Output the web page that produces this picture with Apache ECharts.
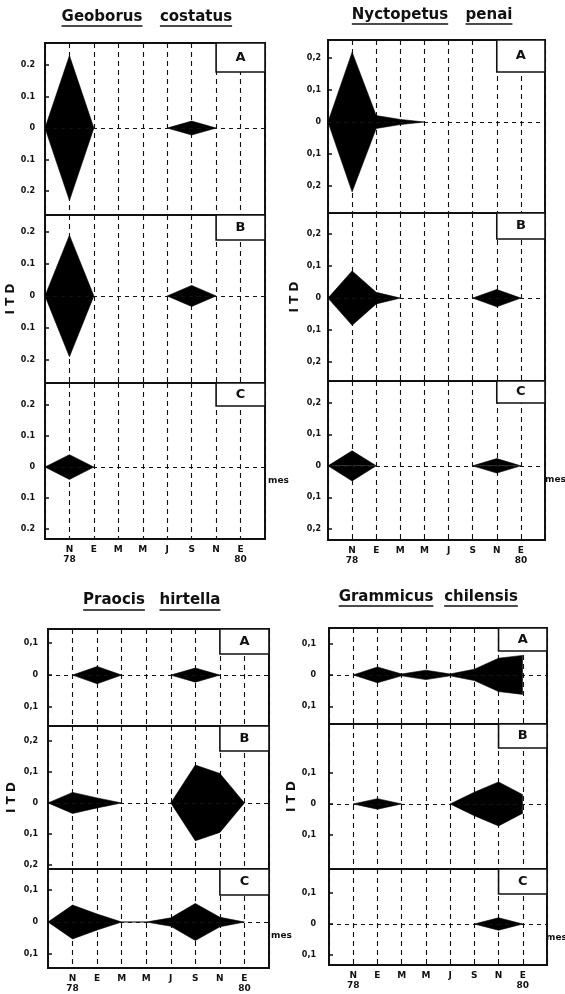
<!DOCTYPE html>
<html><head><meta charset="utf-8">
<script src="https://cdn.jsdelivr.net/npm/echarts@6/dist/echarts.min.js"></script>
<style>html,body{margin:0;padding:0;background:#fff}#c{width:565px;height:994px}</style>
</head><body><div id="c"></div>
<script>
// ---- DATA ----
// x positions: 0 = left edge (Sep 78), 1..8 = N E M M J S N E (bimonthly, Nov 78 - Jan 80), 9 = right edge
const monthLabels = ['', 'N\n78', 'E', 'M', 'M', 'J', 'S', 'N', 'E\n80', ''];
const panelLetters = ['A', 'B', 'C'];
const speciesNames = [['Geoborus', 'costatus'], ['Nyctopetus', 'penai'], ['Praocis', 'hirtella'], ['Grammicus', 'chilensis']];

// ITD half-widths (kite drawn symmetrically around 0); null = no record
const geoborusA = [0, 0.23, 0, null, null, 0, 0.022, 0, null, null];
const geoborusB = [0, 0.19, 0, null, null, 0, 0.033, 0, null, null];
const geoborusC = [0, 0.04, 0, null, null, null, null, null, null, null];
const nyctopetusA = [0, 0.218, 0.02, 0.008, 0, null, null, null, null, null];
const nyctopetusB = [0, 0.085, 0.018, 0, null, null, 0, 0.027, 0, null];
const nyctopetusC = [0, 0.048, 0, null, null, null, 0, 0.023, 0, null];
const praocisA = [null, 0, 0.027, 0, null, 0, 0.022, 0, null, null];
const praocisB = [0, 0.034, 0.016, 0, null, 0, 0.122, 0.095, 0, null];
const praocisC = [0, 0.053, 0.025, 0, 0, 0.013, 0.058, 0.015, 0, null];
const grammicusA = [null, 0, 0.025, 0.003, 0.015, 0.003, 0.018, 0.053, 0.062, null];
const grammicusB = [null, 0, 0.017, 0, null, 0, 0.038, 0.071, 0.03, null];
const grammicusC = [null, null, null, null, null, null, 0, 0.02, 0, null];

const ticksWide = [-0.2, -0.1, 0, 0.1, 0.2];
const ticksNarrow = [-0.1, 0, 0.1];
const tickLabelsDot = ['0.2', '0.1', '0', '0.1', '0.2'];
const tickLabelsComma = ['0,2', '0,1', '0', '0,1', '0,2'];

const speciesData = [
  [geoborusA, geoborusB, geoborusC],
  [nyctopetusA, nyctopetusB, nyctopetusC],
  [praocisA, praocisB, praocisC],
  [grammicusA, grammicusB, grammicusC]
];
const speciesTicks = [
  [ticksWide, ticksWide, ticksWide],
  [ticksWide, ticksWide, ticksWide],
  [ticksNarrow, ticksWide, ticksNarrow],
  [ticksNarrow, ticksNarrow, ticksNarrow]
];
const speciesTickLabels = [tickLabelsDot, tickLabelsComma, tickLabelsComma, tickLabelsComma];

// ---- LAYOUT (pixels / axis ranges) ----
const layout = [
  { left: 45, width: 220, rows: [[43, 215], [215, 383], [383, 539]],
    yr: [[-0.276, 0.27], [-0.272, 0.253], [-0.232, 0.271]], box: [29, 25, 23],
    title: { y: 17, ul: 26, cx: [102, 196] }, itdGap: 24, lblMargin: 10, mesGap: 3 },
  { left: 328, width: 217, rows: [[40, 213], [213, 381], [381, 540]],
    yr: [[-0.284, 0.256], [-0.259, 0.266], [-0.236, 0.27]], box: [32, 26, 22],
    title: { y: 15, ul: 24, cx: [400, 489] }, itdGap: 27, lblMargin: 7, mesGap: 0 },
  { left: 48, width: 221, rows: [[629, 726], [726, 869], [869, 968]],
    yr: [[-0.159, 0.144], [-0.213, 0.248], [-0.144, 0.166]], box: [25, 25, 26],
    title: { y: 600, ul: 610, cx: [114, 190] }, itdGap: 30, lblMargin: 10, mesGap: 2 },
  { left: 329, width: 218, rows: [[628, 724], [724, 869], [869, 965]],
    yr: [[-0.156, 0.149], [-0.21, 0.258], [-0.132, 0.177]], box: [23, 24, 25],
    title: { y: 597, ul: 606, cx: [386, 481] }, itdGap: 27, lblMargin: 13, mesGap: -1 }
];

const FONT = '"DejaVu Sans", "Liberation Sans", sans-serif';
const grids = [], xAxes = [], yAxes = [], series = [], graphics = [];

const cv = document.createElement('canvas').getContext('2d');
const titleFont = 'bold 15px "DejaVu Sans"';
cv.font = titleFont;

layout.forEach((L, s) => {
  // title words with underlines
  speciesNames[s].forEach((w, k) => {
    const tw = cv.measureText(w).width;
    graphics.push({ type: 'text', x: L.title.cx[k], y: L.title.y,
      style: { text: w, font: titleFont, fill: '#111', align: 'center', verticalAlign: 'middle' } });
    graphics.push({ type: 'line', shape: { x1: L.title.cx[k] - tw / 2, y1: L.title.ul, x2: L.title.cx[k] + tw / 2, y2: L.title.ul },
      style: { stroke: '#111', lineWidth: 1.5 } });
  });
  for (let p = 0; p < 3; p++) {
    const gi = s * 3 + p;
    const [top, bottom] = L.rows[p];
    const [ymin, ymax] = L.yr[p];
    const h = bottom - top;
    grids.push({ left: L.left, top: top, width: L.width, height: h, show: true,
      outerBoundsMode: 'none', containLabel: false,
      borderColor: '#111', borderWidth: 2, backgroundColor: 'transparent' });
    const isBottom = p === 2;
    xAxes.push({
      type: 'value', gridIndex: gi, min: 0, max: 9, interval: 1,
      axisLine: { show: false }, axisTick: { show: false },
      axisLabel: { show: isBottom, showMinLabel: false, showMaxLabel: false, margin: 6,
        formatter: v => monthLabels[Math.round(v)] || '',
        fontFamily: FONT, fontSize: 9, fontWeight: 'bold', color: '#111', lineHeight: 10 },
      splitLine: { show: true, lineStyle: { color: '#111', type: [5, 4], width: 1.1 } },
      name: isBottom ? 'mes' : '', nameLocation: 'end', nameGap: L.mesGap,
      nameTextStyle: { fontFamily: FONT, fontSize: 9, fontWeight: 'bold', color: '#111',
        verticalAlign: 'top', padding: [9, 0, 0, 0] }
    });
    const ticks = speciesTicks[s][p];
    const labels = speciesTickLabels[s];
    yAxes.push({
      type: 'value', gridIndex: gi, min: ymin, max: ymax,
      axisLine: { show: false },
      axisTick: { show: true, inside: true, length: 4, customValues: ticks, lineStyle: { color: '#111', width: 1.5 } },
      axisLabel: { customValues: ticks, margin: L.lblMargin,
        formatter: v => { const i = ticksWide.findIndex(t => Math.abs(t - v) < 1e-6); return i >= 0 ? labels[i] : ''; },
        fontFamily: FONT, fontSize: 8, fontWeight: 'bold', color: '#111' },
      splitLine: { show: false },
      name: p === 1 ? 'I T D' : '', nameLocation: 'middle', nameRotate: 90, nameGap: L.itdGap,
      nameTextStyle: { fontFamily: FONT, fontSize: 12, fontWeight: 'bold', color: '#111' }
    });
    const vals = speciesData[s][p];
    const up = vals.map((v, i) => [i, v]);
    const down = vals.map((v, i) => [i, v == null ? null : -v]);
    const boxBottom = ymax - L.box[p] * (ymax - ymin) / h;
    const base = { type: 'line', xAxisIndex: gi, yAxisIndex: gi, symbol: 'none', silent: true,
      connectNulls: false, lineStyle: { color: '#000', width: 0.6 },
      areaStyle: { color: '#000', opacity: 1 }, animation: false, z: 3 };
    series.push(Object.assign({}, base, {
      data: up,
      markLine: { silent: true, symbol: 'none', animation: false, label: { show: false },
        lineStyle: { color: '#111', type: [4, 4], width: 1 }, data: [{ yAxis: 0 }] },
      markArea: { silent: true, animation: false,
        itemStyle: { color: '#fff', borderColor: '#111', borderWidth: 1.6 },
        label: { show: true, position: 'inside', fontFamily: FONT, fontSize: 13, fontWeight: 'bold', color: '#111' },
        data: [[{ xAxis: 7, yAxis: ymax, name: panelLetters[p] }, { xAxis: 9, yAxis: boxBottom }]] }
    }));
    series.push(Object.assign({}, base, { data: down }));
  }
});

const chart = echarts.init(document.getElementById('c'), null, { renderer: 'canvas' });
chart.setOption({
  animation: false, backgroundColor: '#fff',
  grid: grids, xAxis: xAxes, yAxis: yAxes, series: series, graphic: graphics
});
</script></body></html>
